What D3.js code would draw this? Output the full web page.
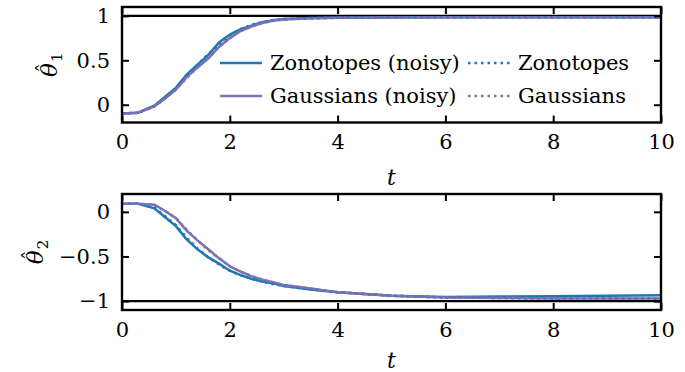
<!DOCTYPE html>
<html>
<head>
<meta charset="utf-8">
<script src="https://cdn.jsdelivr.net/npm/d3@7"></script>
<style>
  body { margin: 0; background: #fff; }
  text { font-family: "DejaVu Serif", serif; fill: #000; }
</style>
</head>
<body>
<script>
var time = [0, 0.3, 0.6, 0.8, 1.0, 1.2, 1.4, 1.6, 1.8, 2.0, 2.2, 2.4, 2.6, 2.8, 3.0, 3.5, 4, 5, 6, 7, 8, 9, 10];

// theta 1
var th1ZonoNoisy = [-0.10, -0.09, -0.01, 0.09, 0.19, 0.34, 0.45, 0.56, 0.70, 0.79, 0.85, 0.89, 0.93, 0.95, 0.965, 0.975, 0.98, 0.983, 0.985, 0.985, 0.985, 0.985, 0.985];
var th1GaussNoisy = [-0.10, -0.09, -0.02, 0.07, 0.17, 0.31, 0.42, 0.52, 0.65, 0.75, 0.83, 0.88, 0.92, 0.945, 0.96, 0.972, 0.978, 0.982, 0.984, 0.985, 0.985, 0.985, 0.985];
var th1Zono = [-0.10, -0.09, -0.02, 0.08, 0.19, 0.32, 0.45, 0.57, 0.68, 0.78, 0.85, 0.90, 0.93, 0.95, 0.965, 0.975, 0.98, 0.984, 0.985, 0.985, 0.985, 0.985, 0.985];
var th1Gauss = [-0.10, -0.09, -0.02, 0.07, 0.17, 0.30, 0.42, 0.53, 0.65, 0.75, 0.83, 0.88, 0.92, 0.945, 0.96, 0.972, 0.978, 0.982, 0.984, 0.985, 0.985, 0.985, 0.985];

// theta 2
var th2ZonoNoisy = [0.09, 0.09, 0.04, -0.06, -0.16, -0.31, -0.42, -0.51, -0.58, -0.66, -0.71, -0.75, -0.78, -0.80, -0.83, -0.87, -0.90, -0.94, -0.955, -0.95, -0.945, -0.94, -0.935];
var th2GaussNoisy = [0.09, 0.09, 0.08, 0.01, -0.07, -0.21, -0.32, -0.42, -0.52, -0.61, -0.67, -0.72, -0.76, -0.79, -0.82, -0.86, -0.90, -0.94, -0.96, -0.965, -0.97, -0.97, -0.97];
var th2Zono = [0.09, 0.09, 0.05, -0.05, -0.15, -0.29, -0.41, -0.51, -0.59, -0.66, -0.71, -0.75, -0.78, -0.81, -0.83, -0.87, -0.90, -0.94, -0.96, -0.965, -0.97, -0.97, -0.97];
var th2Gauss = [0.09, 0.09, 0.08, 0.01, -0.07, -0.20, -0.32, -0.43, -0.52, -0.61, -0.67, -0.72, -0.76, -0.79, -0.82, -0.86, -0.90, -0.94, -0.96, -0.965, -0.97, -0.97, -0.97];

var xTicks = [0, 2, 4, 6, 8, 10];
var y1Ticks = [0, 0.5, 1];
var y2Ticks = [-1, -0.5, 0];

var legendLabels = ["Zonotopes (noisy)", "Gaussians (noisy)", "Zonotopes", "Gaussians"];

var blue = "#1f77b4", purple = "#7b6fb6";
var width = 685, height = 372;

var svg = d3.select("body").append("svg")
    .attr("width", width)
    .attr("height", height);

var x = d3.scaleLinear().domain([0, 10]).range([122, 661]);

function fmt(d) {
  return d3.format("")(d).replace("-", "\u2212");
}

function panel(top, bottom, domain, yTicks, series, refVal, sub, labelX, tLabelY) {
  var y = d3.scaleLinear().domain(domain).range([bottom, top]);
  var g = svg.append("g");

  var line = d3.line()
      .x(function (d) { return x(d[0]); })
      .y(function (d) { return y(d[1]); });

  // reference line
  g.append("line")
      .attr("x1", x(0)).attr("x2", x(10))
      .attr("y1", y(refVal)).attr("y2", y(refVal))
      .attr("stroke", "#000").attr("stroke-width", 2.2);

  series.forEach(function (s) {
    g.append("path")
        .datum(time.map(function (t, i) { return [t, s.vals[i]]; }))
        .attr("d", line)
        .attr("fill", "none")
        .attr("stroke", s.color)
        .attr("stroke-width", 2.5)
        .attr("stroke-dasharray", s.dash || null);
  });

  // axes, ticks pointing in on all four sides
  g.append("g").attr("transform", "translate(0," + bottom + ")")
      .call(d3.axisBottom(x).tickValues(xTicks).tickSizeInner(-7).tickSizeOuter(0).tickPadding(12).tickFormat(fmt));
  g.append("g").attr("transform", "translate(0," + top + ")")
      .call(d3.axisTop(x).tickValues(xTicks).tickSizeInner(-7).tickSizeOuter(0).tickFormat(""));
  g.append("g").attr("transform", "translate(" + x(0) + ",0)")
      .call(d3.axisLeft(y).tickValues(yTicks).tickSizeInner(-7).tickSizeOuter(0).tickPadding(12).tickFormat(fmt));
  g.append("g").attr("transform", "translate(" + x(10) + ",0)")
      .call(d3.axisRight(y).tickValues(yTicks).tickSizeInner(-7).tickSizeOuter(0).tickFormat(""));

  g.selectAll(".domain").remove();
  g.selectAll(".tick line").attr("stroke", "#000").attr("stroke-width", 2);
  g.selectAll(".tick text")
      .style("font-family", "DejaVu Serif")
      .style("font-size", "21px")
      .attr("fill", "#000");

  g.append("rect")
      .attr("x", x(0)).attr("y", top)
      .attr("width", x(10) - x(0)).attr("height", bottom - top)
      .attr("fill", "none").attr("stroke", "#000").attr("stroke-width", 2.4);

  // y label: theta with a hat and a subscript, turned upright
  var lg = g.append("g")
      .attr("transform", "translate(" + labelX + "," + ((top + bottom) / 2) + ") rotate(-90)");
  var th = lg.append("text")
      .style("font-size", "23px")
      .style("font-style", "italic")
      .text("\u03b8");
  var w = th.node().getComputedTextLength();
  var sb = lg.append("text")
      .attr("x", w + 1).attr("y", 5)
      .style("font-size", "15px")
      .text(sub);
  var total = w + 1 + sb.node().getComputedTextLength();
  th.attr("x", -total / 2);
  sb.attr("x", -total / 2 + w + 1);
  lg.append("text")
      .attr("x", -total / 2 + w / 2 + 2).attr("y", -5)
      .attr("text-anchor", "middle")
      .style("font-size", "20px")
      .text("\u02c6");

  // x label
  g.append("text")
      .attr("x", x(5)).attr("y", tLabelY)
      .attr("text-anchor", "middle")
      .style("font-size", "22px")
      .style("font-style", "italic")
      .text("t");

  return y;
}

panel(7, 122.5, [-0.2, 1.1], y1Ticks, [
  {vals: th1ZonoNoisy, color: blue},
  {vals: th1GaussNoisy, color: purple},
  {vals: th1Zono, color: blue, dash: "2.5,4"},
  {vals: th1Gauss, color: purple, dash: "2.5,4"}
], 1, "1", 57, 185);

panel(194, 310, [-1.1, 0.2], y2Ticks, [
  {vals: th2ZonoNoisy, color: blue},
  {vals: th2GaussNoisy, color: purple},
  {vals: th2Zono, color: blue, dash: "2.5,4"},
  {vals: th2Gauss, color: purple, dash: "2.5,4"}
], -1, "2", 43, 368);

// legend, two columns
var legendItems = [
  {label: legendLabels[0], color: blue, dash: null, col: 0, row: 0},
  {label: legendLabels[1], color: purple, dash: null, col: 0, row: 1},
  {label: legendLabels[2], color: blue, dash: "2.5,4", col: 1, row: 0},
  {label: legendLabels[3], color: purple, dash: "2.5,4", col: 1, row: 1}
];
var colX = [220, 468], rowY = [63, 96];

var leg = svg.append("g").selectAll("g")
    .data(legendItems)
    .enter().append("g")
    .attr("transform", function (d) { return "translate(" + colX[d.col] + "," + rowY[d.row] + ")"; });

leg.append("line")
    .attr("x1", 0).attr("x2", 42)
    .attr("stroke", function (d) { return d.color; })
    .attr("stroke-width", 2.5)
    .attr("stroke-dasharray", function (d) { return d.dash; });

leg.append("text")
    .attr("x", 50).attr("y", 7)
    .style("font-size", "21px")
    .text(function (d) { return d.label; });
</script>
</body>
</html>
